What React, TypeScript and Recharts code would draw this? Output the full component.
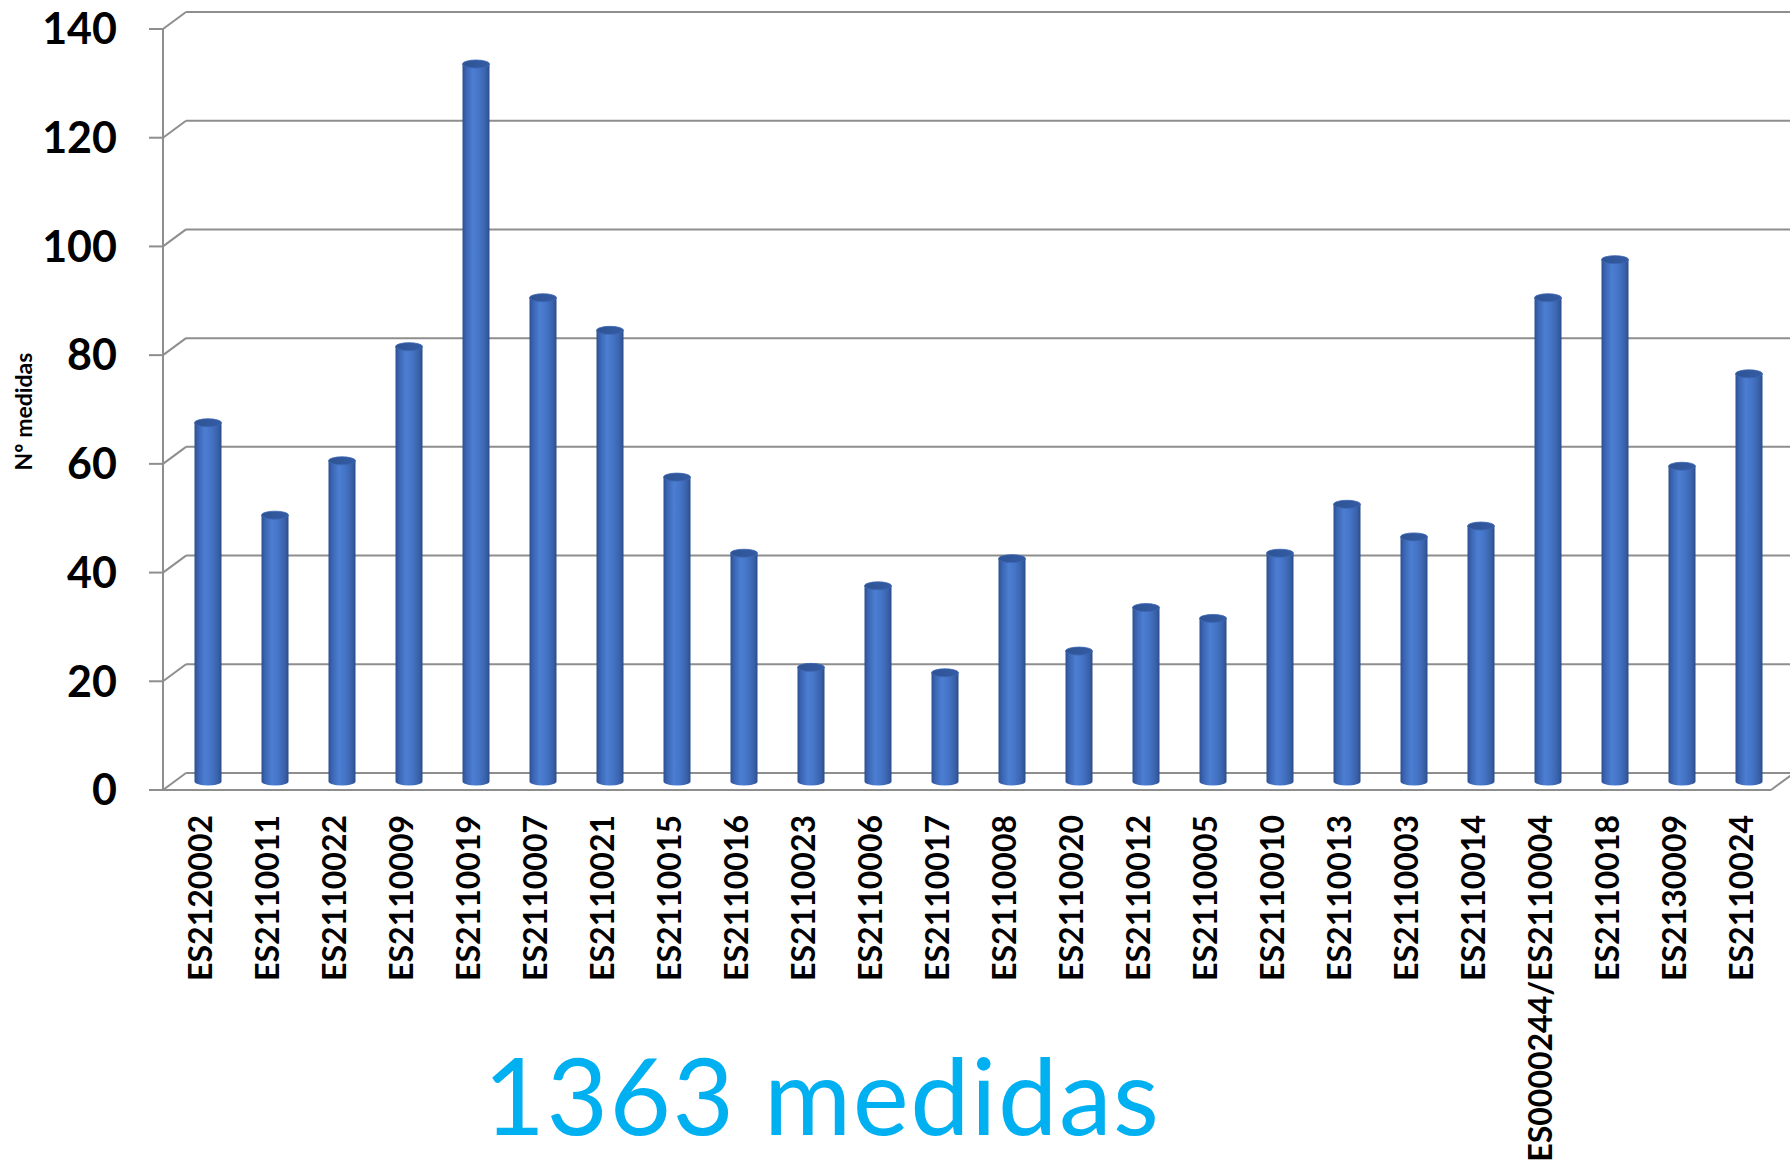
import React from 'react';
import { BarChart, Bar, XAxis, YAxis, CartesianGrid, Label } from 'recharts';

const categories = [
  'ES2120002', 'ES2110011', 'ES2110022', 'ES2110009', 'ES2110019', 'ES2110007',
  'ES2110021', 'ES2110015', 'ES2110016', 'ES2110023', 'ES2110006', 'ES2110017',
  'ES2110008', 'ES2110020', 'ES2110012', 'ES2110005', 'ES2110010', 'ES2110013',
  'ES2110003', 'ES2110014', 'ES0000244/ES2110004', 'ES2110018', 'ES2130009', 'ES2110024',
];
const values = [66, 49, 59, 80, 132, 89, 83, 56, 42, 21, 36, 20, 41, 24, 32, 30, 42, 51, 45, 47, 89, 96, 58, 75];
const yTicks = [0, 20, 40, 60, 80, 100, 120, 140];
const yAxisTitle = 'Nº medidas';
const totalWord = 'medidas';

const data = categories.map((name, i) => ({ name, value: values[i] }));
const total = values.reduce((a, b) => a + b, 0);

const W = 1790;
const H = 1169;
const DEPTH_X = 23;
const DEPTH_Y = 17;
const GRID = '#8e8e8e';
const LABEL_FONT = 'Lato, "Open Sans", sans-serif';

const Cylinder = (props: any) => {
  const { x, y, width, height } = props;
  if (x == null || y == null || !width || height == null) return null;
  const left = x + DEPTH_X / 2;
  const top = y - DEPTH_Y / 2;
  const bottom = y + height - DEPTH_Y / 2;
  const rx = width / 2;
  const ry = 4;
  const d = `M${left},${top} L${left},${bottom} A${rx},${ry} 0 0 0 ${left + width},${bottom} L${left + width},${top} Z`;
  return (
    <g>
      <path d={d} fill="url(#cylGrad)" />
      <ellipse cx={left + rx} cy={top} rx={rx} ry={ry} fill="url(#capGrad)" stroke="#3d67b3" strokeWidth={0.8} />
    </g>
  );
};

const gridLine = (p: any) => {
  const { x1, x2, y1, index } = p;
  const bx = x1 + DEPTH_X;
  const by = y1 - DEPTH_Y;
  const isFloor =
    p.y != null && p.height != null ? Math.abs(y1 - (p.y + p.height)) < 1 : index === 0;
  return (
    <g key={`g-${index}-${y1}`}>
      <line x1={x1} y1={y1} x2={bx} y2={by} stroke={GRID} strokeWidth={2} />
      <line x1={bx} y1={by} x2={x2 + DEPTH_X} y2={by} stroke={GRID} strokeWidth={2} />
      {isFloor && <line x1={x2} y1={y1} x2={x2 + DEPTH_X} y2={by} stroke={GRID} strokeWidth={2} />}
    </g>
  );
};

const XTick = (props: any) => {
  const { x, y, payload } = props;
  return (
    <text
      x={0}
      y={0}
      transform={`translate(${x + 3},${y + 25}) rotate(-90)`}
      textAnchor="end"
      dominantBaseline="central"
      fontFamily={LABEL_FONT}
      fontWeight={700}
      fontSize={32}
      fill="#000"
    >
      {payload.value}
    </text>
  );
};

const YTitle = (props: any) => {
  const vb = props.viewBox || { x: 0, y: 0, width: 0, height: 0 };
  const cx = vb.x + 23;
  const cy = vb.y + vb.height / 2 + 2;
  return (
    <text
      x={cx}
      y={cy}
      transform={`rotate(-90, ${cx}, ${cy})`}
      textAnchor="middle"
      dominantBaseline="central"
      fontFamily={LABEL_FONT}
      fontWeight={700}
      fontSize={23}
      fill="#000"
    >
      {yAxisTitle}
    </text>
  );
};

export default function App() {
  return (
    <div style={{ position: 'absolute', left: 0, top: 0, width: W, height: H, overflow: 'hidden', background: '#fff' }}>
      <svg width={0} height={0} style={{ position: 'absolute' }}>
        <defs>
          <linearGradient id="cylGrad" x1="0" y1="0" x2="1" y2="0">
            <stop offset="0%" stopColor="#2c4f8e" />
            <stop offset="12%" stopColor="#3a63b0" />
            <stop offset="38%" stopColor="#4b7ed2" />
            <stop offset="62%" stopColor="#4574c6" />
            <stop offset="88%" stopColor="#3860a8" />
            <stop offset="100%" stopColor="#2b4c88" />
          </linearGradient>
          <linearGradient id="capGrad" x1="0" y1="0" x2="1" y2="0">
            <stop offset="0%" stopColor="#2e5394" />
            <stop offset="100%" stopColor="#345ca4" />
          </linearGradient>
        </defs>
      </svg>
      <BarChart
        width={W}
        height={H}
        data={data}
        margin={{ top: 29, right: 19, left: 0, bottom: 0 }}
        barSize={27}
      >
        <CartesianGrid horizontal={gridLine as any} vertical={false} />
        <XAxis
          dataKey="name"
          interval={0}
          height={379}
          tickSize={0}
          tickMargin={0}
          tickLine={false}
          axisLine={{ stroke: GRID, strokeWidth: 2 }}
          tick={<XTick />}
        />
        <YAxis
          width={163}
          domain={[0, 140]}
          ticks={yTicks}
          interval={0}
          tickSize={14}
          tickMargin={32}
          axisLine={{ stroke: GRID, strokeWidth: 2 }}
          tickLine={{ stroke: GRID, strokeWidth: 2 }}
          tick={{ fontFamily: LABEL_FONT, fontWeight: 700, fontSize: 43, fill: '#000' }}
        >
          <Label content={<YTitle />} />
        </YAxis>
        <Bar dataKey="value" shape={<Cylinder />} isAnimationActive={false} />
      </BarChart>
      <svg width={W} height={H} style={{ position: 'absolute', left: 0, top: 0, pointerEvents: 'none' }}>
        <text
          x={822}
          y={1135}
          textAnchor="middle"
          fontFamily={LABEL_FONT}
          fontSize={106}
          letterSpacing={1.5}
          fill="#00b0f0"
        >
          {`${total} ${totalWord}`}
        </text>
      </svg>
    </div>
  );
}
